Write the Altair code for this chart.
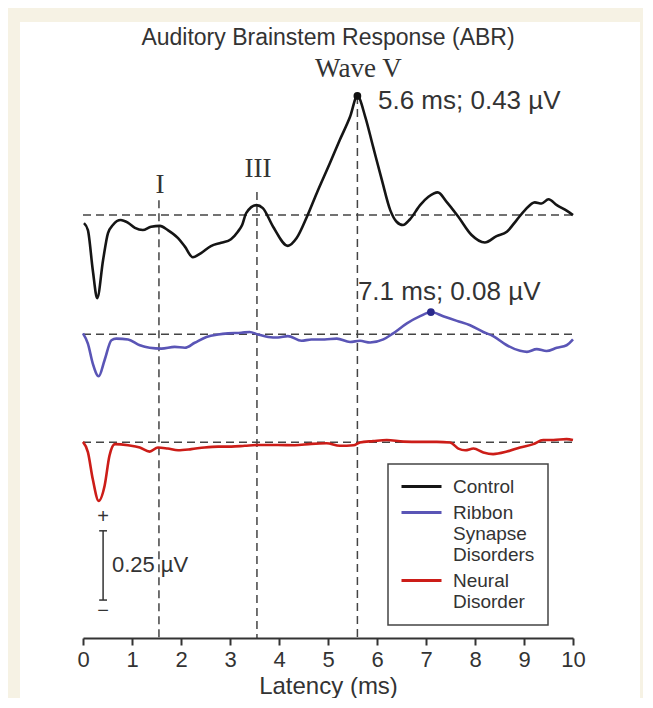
import altair as alt
import pandas as pd

# ---------------- data ----------------
series_names = ["Control", "Ribbon Synapse Disorders", "Neural Disorder"]
series_colors = ["#151515", "#5a55b6", "#cc1d18"]
baseline_offsets = [0.0, -0.43, -0.82]

ctrl_x = [0.02, 0.10, 0.20, 0.29, 0.41, 0.51, 0.61, 0.77, 0.92, 1.06, 1.22, 1.39, 1.57, 1.73, 1.94,
          2.08, 2.24, 2.41, 2.61, 2.82, 3.02, 3.16, 3.25, 3.33, 3.54, 3.67, 3.88, 4.18, 4.36, 4.57,
          4.77, 5.04, 5.24, 5.45, 5.60, 5.76, 5.92, 6.10, 6.27, 6.40, 6.53, 6.67, 6.88, 7.05, 7.24,
          7.42, 7.66, 7.93, 8.20, 8.44, 8.65, 8.85, 9.02, 9.22, 9.36, 9.50, 9.67, 9.87, 10.0]
ctrl_y = [-0.029, -0.054, -0.199, -0.30, -0.162, -0.065, -0.036, -0.018, -0.028, -0.046,
          -0.054, -0.042, -0.039, -0.054, -0.083, -0.114, -0.152, -0.137, -0.112, -0.100,
          -0.087, -0.060, -0.035, 0.007, 0.036, 0.025, -0.042, -0.111, -0.083, -0.006,
          0.079, 0.188, 0.271, 0.355, 0.43, 0.355, 0.247, 0.126, 0.018, -0.024,
          -0.036, -0.016, 0.036, 0.066, 0.082, 0.048, -0.006, -0.072, -0.099, -0.076,
          -0.060, -0.018, 0.018, 0.046, 0.042, 0.057, 0.036, 0.016, 0.0]

ribbon_x = [0.0, 0.10, 0.20, 0.32, 0.44, 0.58, 0.68, 0.92, 1.16, 1.36, 1.60, 1.87, 2.08, 2.28, 2.52,
            2.76, 2.96, 3.23, 3.40, 3.57, 3.78, 3.98, 4.18, 4.46, 4.66, 4.93, 5.18, 5.45, 5.65, 5.86,
            6.13, 6.33, 6.61, 6.88, 7.10, 7.35, 7.63, 7.90, 8.17, 8.37, 8.65, 8.92, 9.06, 9.26, 9.46,
            9.67, 9.87, 10.0]
ribbon_y = [0.003, -0.034, -0.106, -0.152, -0.094, -0.022, -0.016, -0.019, -0.040, -0.049,
            -0.052, -0.046, -0.049, -0.031, -0.010, -0.001, 0.003, 0.005, 0.008, -0.001,
            -0.010, -0.012, -0.007, -0.024, -0.019, -0.019, -0.016, -0.028, -0.024, -0.030,
            -0.019, 0.003, 0.039, 0.065, 0.08, 0.065, 0.048, 0.032, 0.008, -0.007,
            -0.040, -0.060, -0.064, -0.054, -0.061, -0.049, -0.040, -0.019]

neural_x = [0.0, 0.10, 0.20, 0.32, 0.44, 0.54, 0.65, 0.92, 1.16, 1.36, 1.53, 1.73, 1.94, 2.21, 2.48,
            2.76, 3.03, 3.30, 3.57, 3.98, 4.32, 4.66, 4.97, 5.24, 5.52, 5.65, 5.92, 6.20, 6.54, 6.88,
            7.22, 7.49, 7.66, 7.80, 7.97, 8.17, 8.37, 8.65, 8.92, 9.19, 9.39, 9.60, 9.87, 10.0]
neural_y = [0.001, -0.036, -0.134, -0.212, -0.158, -0.049, -0.007, -0.011, -0.019, -0.034,
            -0.019, -0.023, -0.029, -0.025, -0.019, -0.016, -0.016, -0.013, -0.010, -0.010,
            -0.011, -0.006, -0.004, -0.013, -0.011, -0.001, 0.004, 0.008, 0.002, 0.001,
            0.001, -0.001, -0.023, -0.029, -0.023, -0.037, -0.043, -0.034, -0.019, -0.007,
            0.008, 0.008, 0.011, 0.008]

wave_latency = [1.55, 3.55, 5.6]
wave_line_top = [0.054, 0.083, 0.43]
wave_labels = ["I", "III", "Wave V"]
wave_label_x = [1.57, 3.57, 5.62]
wave_label_y = [0.108, 0.166, 0.527]

peak_x = [5.6, 7.1]
peak_y = [0.43, 0.08]
peak_colors = ["#111111", "#2a2a8c"]
peak_texts = ["5.6 ms; 0.43 µV", "7.1 ms; 0.08 µV"]
peak_text_x = [6.02, 5.61]
peak_text_y = [0.413, -0.278]

x_ticks = list(range(0, 11))
scalebar_x = 0.41
scalebar_top = -1.14
scalebar_len = 0.25
scalebar_label = "0.25 µV"

YMIN, YMAX = -1.527, 0.578
SANS = "Liberation Sans"
SERIF = "Liberation Serif"

# ---------------- tables ----------------
rows = []
for name, xs, ys, off in zip(series_names, [ctrl_x, ribbon_x, neural_x],
                             [ctrl_y, ribbon_y, neural_y], baseline_offsets):
    for i, (a, b) in enumerate(zip(xs, ys)):
        rows.append({"series": name, "latency": a, "amp": b + off, "order": i})
df = pd.DataFrame(rows)

xscale = alt.Scale(domain=[0, 10], nice=False, zero=False)
yscale = alt.Scale(domain=[YMIN, YMAX], nice=False, zero=False)
xaxis = alt.Axis(values=x_ticks, title="Latency (ms)", grid=False, domainColor="#333",
                 domainWidth=2, tickColor="#333", tickWidth=2, tickSize=7,
                 labelFont=SANS, labelFontSize=22, labelColor="#333", labelPadding=4,
                 titleFont=SANS, titleFontSize=24, titleFontWeight="normal", titleColor="#333",
                 titlePadding=4, labelFlush=False, zindex=1)


def X(field):
    return alt.X(field, scale=xscale, axis=xaxis)


def Y(field):
    return alt.Y(field, scale=yscale, axis=None)


panel = alt.Chart(pd.DataFrame({"a": [0]})).mark_rect(color="white").encode(
    x=alt.value(-63), x2=alt.value(557), y=alt.value(-33), y2=alt.value(700))

base_df = pd.DataFrame({"x0": [0] * 3, "x1": [10] * 3, "amp": baseline_offsets})
baselines = alt.Chart(base_df).mark_rule(color="#444", strokeDash=[8, 5], strokeWidth=1.5).encode(
    x=X("x0:Q"), x2="x1:Q", y=Y("amp:Q"))

v_df = pd.DataFrame({"latency": wave_latency, "top": wave_line_top, "bottom": [YMIN] * 3})
vlines = alt.Chart(v_df).mark_rule(color="#444", strokeDash=[8, 5], strokeWidth=1.5).encode(
    x=X("latency:Q"), y=Y("top:Q"), y2="bottom:Q")

lab_df = pd.DataFrame({"latency": wave_label_x, "amp": wave_label_y, "text": wave_labels})
wave_text = alt.Chart(lab_df).mark_text(font=SERIF, fontSize=27, color="#333", baseline="middle").encode(
    x=X("latency:Q"), y=Y("amp:Q"), text="text:N")

lines = alt.Chart(df).mark_line(strokeWidth=2.6, interpolate="monotone").encode(
    x=X("latency:Q"), y=Y("amp:Q"),
    color=alt.Color("series:N", scale=alt.Scale(domain=series_names, range=series_colors),
                    legend=alt.Legend(
                        title=None, orient="none", legendX=305, legendY=409,
                        direction="vertical", labelFont=SANS, labelFontSize=19,
                        labelColor="#333", symbolType="M-10,0L10,0", symbolStrokeWidth=3,
                        symbolSize=16, symbolOffset=11, strokeColor="#444", fillColor="white",
                        padding=13, rowPadding=6, labelLimit=0, labelBaseline="middle",
                        labelOffset=22,
                        labelExpr="datum.label == 'Ribbon Synapse Disorders' ? ['Ribbon', 'Synapse', 'Disorders'] : datum.label == 'Neural Disorder' ? ['Neural', 'Disorder'] : datum.label")),
    order="order:Q")

pk_layers = []
for px_, py_, pc, off in zip(peak_x, peak_y, peak_colors, [baseline_offsets[0], baseline_offsets[1]]):
    d = pd.DataFrame({"latency": [px_], "amp": [py_ + off]})
    pk_layers.append(alt.Chart(d).mark_point(filled=True, size=60, color=pc, opacity=1).encode(
        x=X("latency:Q"), y=Y("amp:Q")))

ann_df = pd.DataFrame({"latency": peak_text_x, "amp": peak_text_y, "text": peak_texts})
ann = alt.Chart(ann_df).mark_text(font=SANS, fontSize=26, color="#333", align="left", baseline="middle").encode(
    x=X("latency:Q"), y=Y("amp:Q"), text="text:N")

sb_df = pd.DataFrame({"latency": [scalebar_x], "top": [scalebar_top], "bottom": [scalebar_top - scalebar_len]})
sb_bar = alt.Chart(sb_df).mark_rule(color="#333", strokeWidth=1.5).encode(
    x=X("latency:Q"), y=Y("top:Q"), y2="bottom:Q")
cap_df = pd.DataFrame({"x0": [scalebar_x - 0.08] * 2, "x1": [scalebar_x + 0.08] * 2,
                       "amp": [scalebar_top, scalebar_top - scalebar_len]})
sb_caps = alt.Chart(cap_df).mark_rule(color="#333", strokeWidth=1.5).encode(
    x=X("x0:Q"), x2="x1:Q", y=Y("amp:Q"))
sign_df = pd.DataFrame({"latency": [scalebar_x, scalebar_x],
                        "amp": [scalebar_top + 0.05, scalebar_top - scalebar_len - 0.04],
                        "text": ["+", "−"]})
sb_signs = alt.Chart(sign_df).mark_text(font=SANS, fontSize=20, color="#333", baseline="middle").encode(
    x=X("latency:Q"), y=Y("amp:Q"), text="text:N")
sbl_df = pd.DataFrame({"latency": [scalebar_x + 0.18], "amp": [scalebar_top - scalebar_len / 2],
                       "text": [scalebar_label]})
sb_label = alt.Chart(sbl_df).mark_text(font=SANS, fontSize=22, color="#333", align="left", baseline="middle").encode(
    x=X("latency:Q"), y=Y("amp:Q"), text="text:N")

chart = alt.layer(panel, baselines, vlines, wave_text, lines, *pk_layers, ann,
                  sb_bar, sb_caps, sb_signs, sb_label).properties(
    width=490, height=583,
    title=alt.TitleParams("Auditory Brainstem Response (ABR)", font=SANS, fontSize=23,
                          fontWeight="normal", color="#333", anchor="middle", frame="group",
                          offset=-28),
    autosize=alt.AutoSizeParams(type="none"),
    padding={"left": 75, "top": 47, "right": 70, "bottom": 60},
    background="#f6f2e4",
).configure_view(stroke=None).configure_legend(strokeWidth=1.5)

chart.save("out.html", embed_options={"renderer": "svg", "actions": False})
